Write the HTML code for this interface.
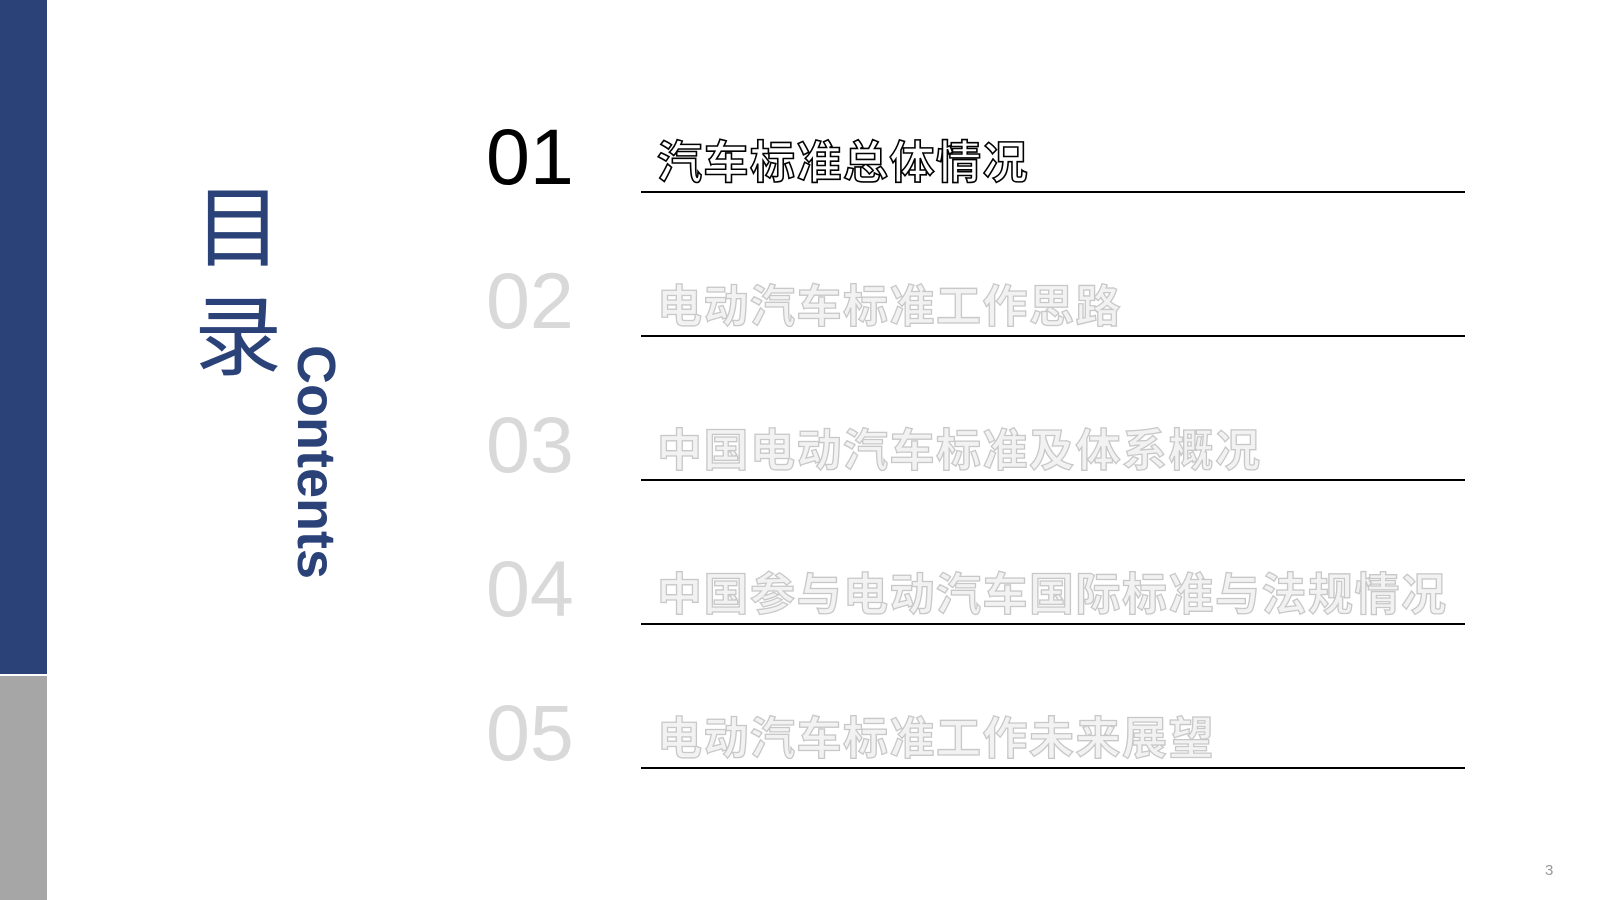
<!DOCTYPE html>
<html><head><meta charset="utf-8"><style>
body{margin:0;width:1600px;height:900px;position:relative;background:#fff;overflow:hidden;font-family:"Liberation Sans","Noto Sans CJK SC",sans-serif}
.a{position:absolute}
.num{position:absolute;left:486px;font-size:79px;line-height:1;color:#d9d9d9}
.t{position:absolute;left:657px;font-size:45px;line-height:1;font-weight:bold;color:#f2f2f2;-webkit-text-stroke:1.3px #c8c8c8;white-space:nowrap;letter-spacing:1.5px}
.l{position:absolute;left:641px;width:824px;height:2px;background:#000}
</style></head><body>
<div class="a" style="left:0;top:0;width:47px;height:674px;background:#2b4279"></div>
<div class="a" style="left:0;top:676px;width:47px;height:224px;background:#a6a6a6"></div>
<div class="a" style="left:194px;top:185px;font-size:88px;line-height:1;color:#2b4279">目</div>
<div class="a" style="left:194px;top:294px;font-size:88px;line-height:1;color:#2b4279">录</div>
<div class="a" style="left:343px;top:345px;transform-origin:0 0;transform:rotate(90deg);font-size:54px;font-weight:bold;line-height:1;color:#2b4279;white-space:nowrap">Contents</div>

<div class="num" style="top:117px;color:#000">01</div>
<div class="t" style="top:140px;color:#fff;-webkit-text-stroke:1.6px #000">汽车标准总体情况</div>
<div class="l" style="top:191px"></div>

<div class="num" style="top:261px">02</div>
<div class="t" style="top:284px">电动汽车标准工作思路</div>
<div class="l" style="top:335px"></div>

<div class="num" style="top:405px">03</div>
<div class="t" style="top:428px">中国电动汽车标准及体系概况</div>
<div class="l" style="top:479px"></div>

<div class="num" style="top:549px">04</div>
<div class="t" style="top:572px">中国参与电动汽车国际标准与法规情况</div>
<div class="l" style="top:623px"></div>

<div class="num" style="top:693px">05</div>
<div class="t" style="top:716px">电动汽车标准工作未来展望</div>
<div class="l" style="top:767px"></div>

<div class="a" style="left:1545px;top:862px;font-size:15px;color:#999">3</div>
</body></html>
